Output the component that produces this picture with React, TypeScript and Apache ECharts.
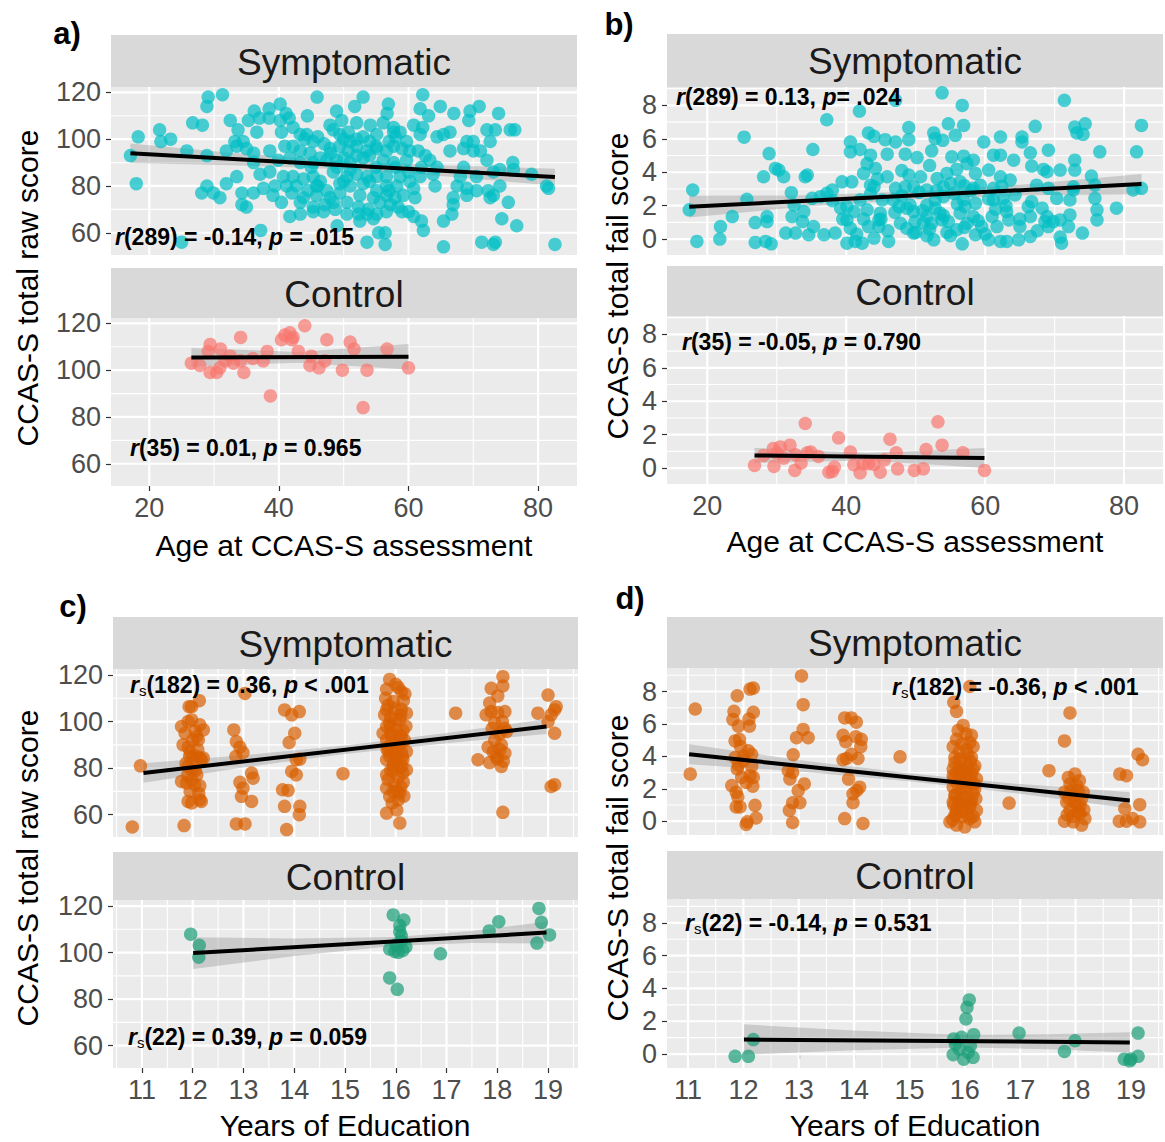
import React, { useEffect, useRef } from "react";
import * as echarts from "echarts";

// ---------- tick values ----------
const AGE_TICKS = [20, 40, 60, 80];
const AGE_MINOR = [10, 30, 50, 70, 90];
const EDU_TICKS = [11, 12, 13, 14, 15, 16, 17, 18, 19];
const EDU_MINOR = [10.5, 11.5, 12.5, 13.5, 14.5, 15.5, 16.5, 17.5, 18.5, 19.5];
const RAW_TICKS = [60, 80, 100, 120];
const RAW_MINOR = [50, 70, 90, 110];
const FAIL_TICKS = [0, 2, 4, 6, 8];
const FAIL_MINOR = [-1, 1, 3, 5, 7, 9];

// ---------- a) age vs raw score ----------
const ageRawSym: number[][] = [
  [29.1,118],[31.3,119],[45.9,118],[53.0,118],[62.2,119],
  [28.9,114],[40.2,115],[36.2,112],[38.5,113],[41.1,111],[44.4,110],[48.9,112],[51.7,114],[56.9,115],[56.7,111],[61.8,113],[64.9,114],[67.0,111],[69.5,112],[70.9,114],[73.9,111],[63.1,110],
  [26.7,107],[28.2,106],[32.5,108],[33.7,104],[35.3,108],[37.0,109],[38.5,109],[40.2,108],[41.6,109],[42.2,105],[47.9,106],[49.7,108],[52.0,107],[54.1,106],[56.1,107],[57.7,105],[60.8,106],[62.2,105],[66.4,103],[69.3,108],[72.1,104],[73.4,104],[76.4,104],
  [21.6,104],[18.3,101],[21.8,99],[23.3,100],[33.2,99],[34.5,99],[36.6,103],[40.4,103],[43.3,102],[44.3,102],[45.3,99],[48.4,104],[49.4,102],[50.7,103],[52.0,100],[55.1,102],[57.7,103],[58.7,103],[59.7,99],[61.8,102],[64.4,101],[65.4,102],[69.0,99],[70.0,99],[72.6,99],[75.7,104],
  [17.1,93],[25.8,95],[28.9,93],[31.9,95],[33.5,97],[35.0,96],[36.1,94],[38.6,95],[40.9,97],[42.2,97],[43.3,95],[44.8,94],[46.4,92],[47.9,96],[49.4,97],[50.7,95],[52.0,97],[53.6,95],[55.1,96],[56.6,95],[57.7,97],[59.0,96],[60.2,95],[61.5,95],[62.6,93],[66.4,95],[68.5,96],[70.0,95],[71.1,95],[72.1,91],[76.1,90],
  [36.1,90],[39.9,91],[41.7,92],[43.3,90],[45.3,90],[47.4,91],[48.9,91],[51.0,90],[53.0,92],[56.1,91],[57.7,90],[59.7,91],[63.3,91],[64.4,88],[68.5,88],[74.1,87],[76.2,87],
  [37.1,85],[38.6,86],[40.7,84],[42.2,84],[43.8,83],[45.3,84],[46.4,82],[48.4,86],[50.5,84],[52.0,85],[53.6,84],[55.1,84],[56.6,84],[58.7,84],[60.2,82],[61.8,84],[63.8,85],[68.0,84],[70.5,84],[73.1,86],[79.0,85],
  [18.0,81],[28.1,77],[28.9,80],[31.9,81],[33.5,84],[37.6,79],[39.4,80],[41.2,80],[42.7,80],[44.5,78],[45.8,80],[47.4,78],[49.4,81],[51.0,80],[53.0,81],[55.1,78],[56.6,80],[58.2,80],[60.8,79],[64.1,80],[67.5,80],[69.0,79],[70.5,78],[72.3,78],[74.1,80],[81.3,80],
  [29.9,77],[30.9,75],[34.3,77],[36.1,77],[39.1,76],[42.0,77],[43.8,75],[45.8,76],[47.9,75],[49.4,77],[52.5,76],[54.6,75],[56.6,76],[57.9,75],[59.2,76],[61.0,75],[66.9,75],[69.0,76],[73.1,76],[81.6,79],
  [34.3,72],[35.0,71],[40.4,73],[43.3,73],[45.3,71],[47.1,72],[48.4,73],[50.5,73],[52.3,71],[53.8,70],[55.6,73],[57.2,72],[58.4,71],[60.0,69],[66.9,72],[75.4,73],[72.6,75],
  [41.7,67],[43.3,68],[45.3,69],[46.9,69],[48.7,70],[50.5,68],[52.3,68],[53.6,68],[55.1,68],[56.6,69],[59.0,69],[60.8,67],[62.0,65],[65.4,65],[66.7,68],[74.4,66],[76.7,63],
  [49.0,63],[52.5,65],[54.6,66],[55.4,60],[56.4,60],[62.3,61],[37.2,61],
  [25.0,56],[53.6,56],[56.4,55],[65.4,54],[71.3,56],[73.1,55],[73.4,56],[82.6,55],
  [44,100],[46,101],[47,98],[50,100],[51,99],[53,101],[54,99],[55,97],[57,99],[58,101],[48,94],[50,92],[52,93],[54,93],[45,88],[49,88],[51,87],[55,88],[58,88],[46,80],[50,82],[54,82],[57,78],[60,86],[62,88],
];
const ageRawCtl: number[][] = [
  [26.5,103],[27.8,102],[29.4,111],[29.1,108],[29.4,99],[30.4,99],[30.9,101],[31.0,109],[31.7,104],[32.5,106],[34.1,114],[34.1,104],[34.6,99],[37.6,104],[38.2,108],[38.7,89],[40.4,113],[40.9,115],[41.7,116],[42.2,114],[42.0,113],[43.0,108],[44.0,119],[44.8,102],[46.2,101],[47.4,113],[47.1,104],[49.8,100],[51.0,112],[51.6,109],[53.0,84],[53.6,100],[56.7,109],[60.0,101],[33.0,103],[36.0,105],[45.0,106],
];
const aSymFitX = [17.1, 82.6];
const aSymFitY = [94.0, 83.8];
const aSymBandX = [17.1, 33, 50, 66, 82.6];
const aSymBandLo = [89.8, 88.9, 87.1, 84.0, 80.2];
const aSymBandHi = [98.2, 94.1, 90.7, 88.8, 87.4];
const aCtlFitX = [26.5, 60.0];
const aCtlFitY = [105.4, 105.7];
const aCtlBandX = [26.5, 43, 60];
const aCtlBandLo = [101.5, 103.2, 100.3];
const aCtlBandHi = [109.5, 107.8, 111.2];

// ---------- b) age vs fail score ----------
const ageFailSym: number[][] = [
  [53.8,8.75],[47.1,8.3],[56.7,8.0],[71.4,8.3],[41.9,7.66],[37.2,7.14],[25.3,6.1],
  [49.0,6.67],[52.6,6.35],[54.7,6.9],[56.9,6.8],[67.2,6.75],[72.9,6.7],[74.4,6.9],[82.5,6.8],[73.2,6.35],[74.1,6.27],[43.2,6.35],[44.0,6.15],[45.6,5.95],[47.1,5.81],[49.0,5.95],[52.8,6.01],[53.9,5.91],[55.7,6.21],[62.2,6.11],[65.3,6.11],[65.3,5.81],[59.8,5.81],
  [40.6,5.81],[35.2,5.36],[28.9,5.12],[40.6,5.22],[42.0,5.36],[43.5,5.02],[45.9,5.08],[48.5,5.08],[50.2,4.88],[52.3,5.28],[55.2,4.92],[56.9,4.96],[58.3,4.72],[61.2,5.02],[62.2,5.02],[64.1,4.72],[66.5,5.16],[69.1,5.32],[76.5,5.22],[81.8,5.22],[72.9,4.72],[68.4,4.17],
  [29.8,4.23],[30.3,4.13],[28.1,3.73],[31.0,3.73],[34.1,3.73],[34.4,3.83],[43.0,4.52],[44.2,4.23],[42.5,3.93],[45.9,3.73],[49.0,3.83],[50.7,3.73],[53.1,3.63],[54.5,3.93],[55.9,4.17],[57.4,4.52],[58.6,3.93],[60.5,4.13],[62.2,3.73],[63.6,3.53],[66.7,4.37],[68.9,4.03],[72.9,4.13],[75.3,3.77],[70.8,4.13],
  [38.0,2.94],[39.4,3.43],[40.8,3.43],[37.2,2.74],[32.1,2.78],[44.0,3.13],[43.5,3.23],[47.1,3.04],[48.5,3.13],[49.7,3.13],[51.6,2.94],[54.0,3.13],[55.0,3.33],[56.4,3.43],[58.3,3.04],[59.3,3.23],[61.2,3.04],[62.4,3.17],[67.4,3.23],[69.1,3.04],[72.7,3.13],[81.3,2.94],[75.8,3.23],[72.7,2.94],
  [25.7,2.38],[17.9,2.94],[17.4,1.75],[35.1,2.44],[36.3,2.54],[40.1,1.94],[42.0,2.34],[45.2,2.34],[46.8,2.34],[49.2,2.04],[51.6,2.04],[52.8,2.34],[54.0,2.54],[55.5,2.74],[56.9,2.34],[58.6,2.14],[61.2,2.34],[62.6,2.44],[64.3,2.64],[66.7,2.24],[70.3,2.44],[72.2,2.34],[75.8,2.44],[78.9,1.85],[82.5,3.04],
  [32.5,2.04],[33.9,1.65],[39.2,1.85],[41.1,1.65],[43.0,1.75],[44.9,1.55],[47.6,1.94],[48.7,1.85],[49.7,1.65],[51.6,1.35],[52.8,1.85],[53.5,1.55],[56.4,1.55],[57.1,1.94],[58.3,1.35],[61.0,1.35],[63.1,1.65],[66.2,1.94],[68.2,1.85],[68.9,1.35],[70.8,1.15],[72.2,1.45],[76.1,1.75],[76.1,1.15],[23.6,1.35],[28.6,1.35],
  [21.9,0.75],[26.9,0.99],[28.6,1.05],[32.2,1.35],[33.7,1.05],[35.3,0.75],[36.8,0.26],[38.4,0.36],[40.1,1.15],[40.6,0.65],[43.2,0.75],[44.7,1.15],[44.7,0.75],[47.8,0.95],[48.7,0.65],[49.9,1.05],[51.1,0.95],[52.3,0.95],[53.8,1.15],[54.7,1.05],[55.9,0.56],[57.4,0.95],[59.5,0.75],[61.7,0.75],[63.4,1.15],[65.0,0.75],[66.5,1.35],[68.6,1.05],[69.1,0.75],[69.8,1.05],[72.0,0.75],[74.0,0.36],
  [18.5,-0.14],[21.8,0],[26.9,-0.2],[28.4,-0.14],[29.2,-0.28],[31.3,0.36],[32.7,0.36],[34.6,0.26],[40.1,-0.24],[41.3,-0.14],[42.3,-0.24],[44.0,0.06],[46.1,-0.14],[49.7,0.36],[51.6,0.2],[52.6,-0.04],[54.5,0.4],[56.7,-0.28],[58.6,0.26],[60.5,-0.04],[62.2,-0.14],[64.8,-0.04],[63.1,-0.14],[70.8,0.12],[71.0,-0.24],[66.5,0.16],
  [45,1.2],[46,0.5],[47,1.6],[48,2.6],[50,0.4],[50.5,2.8],[51,1.7],[52,0.6],[53,2.9],[54,1.4],[55,0.2],[56,2.1],[57,0.7],[58,2.9],[59,1.1],[60,0.3],[60.5,2.4],[61.5,1.8],[42.5,1.2],[43.5,2.7],[41.5,0.3],[39.5,1.2],[38,2.3],[44.5,3.6],[48,4.1],[52,4.4],[57,3.2],[63,2.0],[65,1.2],[67.5,0.5],
];
const ageFailCtl: number[][] = [
  [26.8,0.16],[28.1,0.76],[29.5,1.17],[29.6,0.1],[30.5,1.27],[31.0,0.6],[31.9,1.37],[32.6,-0.14],[32.7,0.8],[34.1,2.67],[34.4,0.92],[34.9,0.96],[37.5,-0.24],[38.0,-0.2],[38.3,0.06],[38.9,1.81],[40.6,0.96],[41.1,0.2],[42.0,-0.28],[42.4,0.26],[43.2,0.26],[44.0,0.22],[44.9,-0.24],[46.3,1.73],[47.2,0.92],[47.4,-0.04],[49.8,-0.14],[51.1,-0.04],[51.5,1.11],[53.2,2.77],[53.8,1.37],[56.8,0.92],[59.9,-0.14],[30.0,0.9],[33.5,0.3],[45.5,0.5],[36.0,0.7],
];
const bSymFitX = [17.4, 82.5];
const bSymFitY = [1.94, 3.29];
const bSymBandX = [17.4, 33, 50, 66, 82.5];
const bSymBandLo = [1.29, 1.91, 2.37, 2.62, 2.69];
const bSymBandHi = [2.59, 2.61, 2.87, 3.28, 3.89];
const bCtlFitX = [26.8, 59.9];
const bCtlFitY = [0.76, 0.6];
const bCtlBandX = [26.8, 43, 59.9];
const bCtlBandLo = [0.31, 0.46, 0.0];
const bCtlBandHi = [1.21, 0.9, 1.2];

// ---------- c) education vs raw score ----------
const eduRawSym: number[][] = [
  [10.81,54.7],[10.97,81],
  [11.93,106.4],[11.98,106.4],[12.13,109],[11.78,97.9],[11.91,100],[11.98,100.7],[12.14,98.6],[12.21,96.4],[12.08,93.6],[12.11,92.1],[11.81,90],[11.91,89],[11.94,85],[12.01,84.3],[12.08,85],[12.14,84.3],[12.17,83.6],[12.21,84.3],[11.91,80.7],[11.98,79.3],[12.08,77.1],[11.78,74.3],[11.88,73.6],[11.98,75],[12.04,72.9],[12.14,72.4],[11.91,65.7],[11.98,65],[12.14,66.4],[12.17,65.7],[11.83,55.3],
  [11.85,95],[12.05,96],[11.95,87],[12.1,88],[11.9,77],[12.05,79],[11.95,70],[12.12,69],[11.87,82],[12.0,92],
  [13.03,112.1],[12.81,96.4],[12.86,91.4],[12.93,89],[12.99,86.7],[12.85,85],[13.16,77.9],[13.19,75.7],[12.93,73.9],[12.99,71.4],[12.96,67.9],[13.16,65.7],[12.86,56],[13.03,56],
  [13.81,105],[13.95,102.9],[14.1,104.3],[14.01,95],[13.9,91],[14.04,83.6],[14.11,83.9],[13.95,78.6],[14.04,77.1],[13.77,70.7],[13.88,70.4],[13.81,63.6],[14.11,63.6],[14.1,60],[13.85,53.6],
  [14.96,77.6],
  [15.88,118.1],[15.82,113.9],[16.05,114.7],[16.11,112.9],[16.18,111.9],[15.95,108.6],[15.82,105],[15.98,105.7],[16.11,105.3],[16.21,103.6],[15.78,102.9],[15.88,99.3],[16.08,100.7],[15.75,95],[15.91,94.3],[16.14,96.1],[15.82,92.1],[16.08,90.7],[15.95,88.6],[16.11,87.1],[16.21,87.1],[15.88,85],[16.01,84.3],[15.82,83.6],[16.14,83.6],[15.95,81],[16.08,80],[15.82,77.1],[15.95,78.6],[16.21,79.3],[16.14,77.9],[15.82,71.4],[15.95,70],[16.08,69.3],[15.88,67.9],[16.05,66.4],[15.82,60.7],[16.08,56.4],[15.98,86.4],[15.85,89],[16.11,93.6],[15.82,97.9],[16.01,96.4],
  [15.9,98],[16.0,101],[16.1,103],[15.85,107],[16.15,109],[15.92,91],[16.05,89],[16.17,92],[15.87,87],[16.0,83],[16.12,81],[15.9,79],[16.05,76],[16.15,74],[15.85,75],[15.98,73],[16.1,72],[15.93,65],[16.02,62],[16.16,68],[15.8,110],[16.0,116],[16.2,98],[15.9,95],[16.07,94],[15.96,82],[16.13,85],[15.83,88],[16.03,70],[15.9,102],
  [17.18,103.6],
  [18.11,119.3],[18.11,115.3],[17.88,114.3],[18.01,111],[17.78,102.9],[17.88,104.3],[18.01,103.9],[18.15,104.3],[17.95,99.3],[18.05,94.7],[18.18,95.7],[17.82,89],[18.08,90],[17.62,83.6],[17.85,82.4],[17.98,85],[18.15,86.4],[18.08,80.7],[18.11,61],
  [17.9,97],[18.05,88],[17.95,92],[18.1,100],[17.85,108],[18.0,84],[18.12,83],[17.92,87],[18.15,97],
  [19.0,111.4],[19.16,106.4],[19.13,105],[18.8,103.6],[19.06,102.9],[19.0,100],[19.13,95],[19.06,72.1],[19.13,72.9],
];
const eduRawCtl: number[][] = [
  [11.96,107.9],[12.13,103.1],[12.12,98],[15.95,116.2],[16.16,114],[16.08,111.6],[16.08,109],[16.11,107.2],[15.88,101.5],[15.98,100.5],[16.05,100.1],[16.14,100.9],[16.01,103.4],[15.88,89.1],[16.03,84.2],[16.88,99.5],[17.84,109.3],[18.03,113.3],[18.82,119],[18.87,113],[18.78,104.1],[19.03,107.6],[16.11,104.8],[16.2,102.5],
];
const cSymFitX = [11.03, 18.97];
const cSymFitY = [77.9, 97.9];
const cSymBandX = [11.03, 13, 15, 17, 18.97];
const cSymBandLo = [73.7, 80.3, 86.1, 90.7, 94.7];
const cSymBandHi = [82.1, 85.5, 89.7, 95.1, 101.1];
const cCtlFitX = [12.01, 18.97];
const cCtlFitY = [99.8, 108.6];
const cCtlBandX = [12.01, 14, 16, 17.5, 18.97];
const cCtlBandLo = [93.0, 98.5, 102.9, 104.1, 103.9];
const cCtlBandHi = [106.6, 106.1, 106.7, 109.3, 113.3];

// ---------- d) education vs fail score ----------
const eduFailSym: number[][] = [
  [11.13,6.92],[11.04,2.91],
  [11.89,7.74],[12.12,8.15],[12.18,8.21],[11.83,6.78],[11.81,6.27],[11.91,5.87],[12.11,5.87],[12.18,6.72],[11.85,4.95],[11.93,5.05],[12.09,4.34],[12.15,4.13],[12.0,4.03],[11.85,3.93],[11.89,3.22],[11.97,2.71],[12.12,2.81],[12.18,2.71],[11.79,2.2],[11.87,1.79],[12.17,2.16],[11.87,0.88],[11.94,0.88],[12.21,0.98],[12.23,0.2],[12.05,-0.2],[12.07,-0.04],[11.91,3.46],[12.0,3.73],
  [11.9,1.5],[12.05,2.4],[12.15,3.4],[11.95,4.6],[12.1,6.3],
  [13.05,8.96],[13.08,7.19],[12.96,5.15],[13.08,5.66],[13.17,5.15],[12.81,3.12],[12.89,3.01],[12.84,2.61],[12.99,1.89],[12.89,1.14],[13.02,1.14],[12.83,0.67],[12.89,-0.08],[12.9,4.1],[13.1,2.3],
  [13.83,6.37],[13.95,6.37],[14.04,6.11],[13.8,5.3],[14.03,5.21],[14.13,5.05],[13.86,3.87],[13.95,4.13],[14.07,3.87],[13.8,3.79],[14.1,2.1],[13.98,1.69],[13.98,1.14],[13.83,0.16],[14.16,-0.14],[14.05,1.9],[13.9,2.6],[14.12,4.6],[13.85,4.9],
  [14.83,3.97],
  [16.09,8.31],[15.8,7.33],[15.85,6.78],[15.97,5.91],[16.12,5.3],[15.85,5.05],[16.09,4.85],[15.79,4.6],[16.03,4.44],[15.82,3.93],[16.12,3.93],[15.79,3.22],[15.91,3.32],[16.18,3.42],[16.12,2.91],[15.79,2.81],[15.94,2.51],[16.21,2.61],[15.79,2.1],[16.03,2.0],[16.18,2.0],[15.82,1.59],[15.94,1.38],[16.12,1.28],[15.79,1.18],[15.91,0.98],[16.09,0.88],[16.21,0.67],[15.82,0.37],[15.94,0.26],[16.09,0.16],[15.85,-0.24],[16.0,-0.35],[15.73,-0.04],[16.18,-0.04],[15.91,3.83],[16.03,3.01],[15.85,0.77],
  [15.85,0.5],[15.95,0.6],[16.05,0.4],[16.15,0.3],[15.8,1.0],[15.9,1.2],[16.0,1.0],[16.1,1.1],[16.2,1.4],[15.83,1.6],[15.93,1.8],[16.02,1.5],[16.15,1.7],[15.87,2.3],[15.97,2.2],[16.07,2.4],[16.17,2.3],[15.8,2.6],[15.9,2.8],[16.0,2.7],[16.1,2.6],[15.85,3.0],[15.95,3.1],[16.05,3.3],[16.15,3.2],[15.82,3.6],[16.0,3.6],[16.1,3.7],[15.9,4.3],[16.05,4.1],[15.95,4.8],[16.15,4.6],[15.88,5.6],[16.02,5.4],[15.78,0.1],
  [16.8,1.12],
  [17.9,6.68],[17.8,4.95],[17.52,3.12],[17.99,2.91],[17.9,2.3],[18.05,1.89],[17.8,1.79],[17.96,1.59],[18.11,1.38],[17.84,1.18],[18.02,0.98],[17.9,0.67],[18.08,0.47],[17.8,0.0],[17.96,-0.04],[18.11,-0.24],[18.17,0.16],
  [17.85,0.4],[17.95,0.3],[18.05,0.6],[18.15,0.7],[17.88,1.4],[17.98,1.2],[18.08,1.0],[18.14,1.8],[17.92,1.9],[18.02,2.2],[17.87,2.7],[18.07,2.5],
  [19.13,4.13],[19.21,3.79],[18.8,2.91],[18.92,2.81],[19.16,1.02],[18.89,0.77],[18.79,0.0],[18.92,0.0],[19.03,0.16],[19.16,-0.04],
];
const eduFailCtl: number[][] = [
  [11.85,-0.14],[12.09,-0.14],[12.18,0.88],[15.79,-0.04],[15.8,0.92],[15.94,1.02],[15.83,0.61],[15.98,-0.31],[16.06,0.1],[16.15,-0.2],[16.16,1.18],[16.02,2.14],[16.04,2.85],[16.08,3.3],[16.98,1.28],[17.8,0.16],[17.99,0.81],[18.88,-0.31],[18.98,-0.41],[19.13,1.28],[19.13,-0.14],[15.9,0.3],[16.1,0.5],[19.0,-0.3],
];
const dSymFitX = [11.02, 18.98];
const dSymFitY = [4.13, 1.28];
const dSymBandX = [11.02, 13, 15, 17, 18.98];
const dSymBandLo = [3.51, 3.07, 2.46, 1.69, 0.78];
const dSymBandHi = [4.75, 3.77, 2.96, 2.29, 1.78];
const dCtlFitX = [12.01, 18.98];
const dCtlFitY = [0.88, 0.71];
const dCtlBandX = [12.01, 14, 16, 17.5, 18.98];
const dCtlBandLo = [-0.05, 0.23, 0.4, 0.3, 0.09];
const dCtlBandHi = [1.81, 1.43, 1.16, 1.2, 1.33];

// ---------- colours / styles ----------
const TEAL = "#00BFC4";
const SALMON = "#F8766D";
const ORANGE = "#D95F02";
const GREEN = "#1B9E77";
const PANEL_BG = "#EBEBEB";
const STRIP_BG = "#D9D9D9";
const AXIS_FONT = "Liberation Sans";

interface Facet {
  box: { left: number; top: number; width: number; height: number };
  xr: number[]; yr: number[];
  xt: number[]; xm: number[]; yt: number[]; ym: number[];
  showX: boolean;
  pts: number[][]; color: string;
  fx: number[]; fy: number[];
  bx: number[]; blo: number[]; bhi: number[];
}

const FACETS: Facet[] = [
  { box: { left: 111, top: 87, width: 466, height: 168 }, xr: [14.1, 86.0], yr: [50.5, 122.3], xt: AGE_TICKS, xm: AGE_MINOR, yt: RAW_TICKS, ym: RAW_MINOR, showX: false, pts: ageRawSym, color: TEAL, fx: aSymFitX, fy: aSymFitY, bx: aSymBandX, blo: aSymBandLo, bhi: aSymBandHi },
  { box: { left: 111, top: 318, width: 466, height: 168 }, xr: [14.1, 86.0], yr: [50.5, 122.3], xt: AGE_TICKS, xm: AGE_MINOR, yt: RAW_TICKS, ym: RAW_MINOR, showX: true, pts: ageRawCtl, color: SALMON, fx: aCtlFitX, fy: aCtlFitY, bx: aCtlBandX, blo: aCtlBandLo, bhi: aCtlBandHi },
  { box: { left: 667, top: 87, width: 496, height: 168 }, xr: [14.2, 85.6], yr: [-0.95, 9.1], xt: AGE_TICKS, xm: AGE_MINOR, yt: FAIL_TICKS, ym: FAIL_MINOR, showX: false, pts: ageFailSym, color: TEAL, fx: bSymFitX, fy: bSymFitY, bx: bSymBandX, blo: bSymBandLo, bhi: bSymBandHi },
  { box: { left: 667, top: 316, width: 496, height: 168 }, xr: [14.2, 85.6], yr: [-0.95, 9.1], xt: AGE_TICKS, xm: AGE_MINOR, yt: FAIL_TICKS, ym: FAIL_MINOR, showX: true, pts: ageFailCtl, color: SALMON, fx: bCtlFitX, fy: bCtlFitY, bx: bCtlBandX, blo: bCtlBandLo, bhi: bCtlBandHi },
  { box: { left: 113, top: 669, width: 465, height: 168 }, xr: [10.43, 19.59], yr: [50.4, 122.6], xt: EDU_TICKS, xm: EDU_MINOR, yt: RAW_TICKS, ym: RAW_MINOR, showX: false, pts: eduRawSym, color: ORANGE, fx: cSymFitX, fy: cSymFitY, bx: cSymBandX, blo: cSymBandLo, bhi: cSymBandHi },
  { box: { left: 113, top: 900, width: 465, height: 168 }, xr: [10.43, 19.59], yr: [50.4, 122.6], xt: EDU_TICKS, xm: EDU_MINOR, yt: RAW_TICKS, ym: RAW_MINOR, showX: true, pts: eduRawCtl, color: GREEN, fx: cCtlFitX, fy: cCtlFitY, bx: cCtlBandX, blo: cCtlBandLo, bhi: cCtlBandHi },
  { box: { left: 667, top: 668, width: 496, height: 167 }, xr: [10.62, 19.58], yr: [-0.85, 9.45], xt: EDU_TICKS, xm: EDU_MINOR, yt: FAIL_TICKS, ym: FAIL_MINOR, showX: false, pts: eduFailSym, color: ORANGE, fx: dSymFitX, fy: dSymFitY, bx: dSymBandX, blo: dSymBandLo, bhi: dSymBandHi },
  { box: { left: 667, top: 899, width: 496, height: 169 }, xr: [10.62, 19.58], yr: [-0.85, 9.45], xt: EDU_TICKS, xm: EDU_MINOR, yt: FAIL_TICKS, ym: FAIL_MINOR, showX: true, pts: eduFailCtl, color: GREEN, fx: dCtlFitX, fy: dCtlFitY, bx: dCtlBandX, blo: dCtlBandLo, bhi: dCtlBandHi },
];

// strips: [left, top, width, height, label]
const STRIPS: [number, number, number, number, string][] = [
  [111, 35, 466, 52, "Symptomatic"],
  [111, 268, 466, 50, "Control"],
  [667, 34, 496, 53, "Symptomatic"],
  [667, 266, 496, 50, "Control"],
  [113, 617, 465, 52, "Symptomatic"],
  [113, 852, 465, 48, "Control"],
  [667, 617, 496, 51, "Symptomatic"],
  [667, 851, 496, 48, "Control"],
];

const PANEL_LABELS: [number, number, string][] = [
  [67, 33, "a)"], [619, 24, "b)"], [73, 606, "c)"], [630, 598, "d)"],
];

const X_TITLES: [number, number, string][] = [
  [344, 545, "Age at CCAS-S assessment"],
  [915, 541, "Age at CCAS-S assessment"],
  [345, 1125, "Years of Education"],
  [915, 1125, "Years of Education"],
];
const Y_TITLES: [number, number, string][] = [
  [27, 288, "CCAS-S total raw score"],
  [617, 286, "CCAS-S total fail score"],
  [27, 868, "CCAS-S total raw score"],
  [617, 868, "CCAS-S total fail score"],
];

const ANNOTATIONS: [number, number, string][] = [
  [115, 237, "{i|r}{b|(289) = -0.14, }{i|p}{b| = .015}"],
  [130, 448, "{i|r}{b|(35) = 0.01, }{i|p}{b| = 0.965}"],
  [676, 97, "{i|r}{b|(289) = 0.13, }{i|p}{b|= .024}"],
  [682, 342, "{i|r}{b|(35) = -0.05, }{i|p}{b| = 0.790}"],
  [130, 685, "{i|r}{s|s}{b|(182) = 0.36, }{i|p}{b| < .001}"],
  [128, 1037, "{i|r}{s|s}{b|(22) = 0.39, }{i|p}{b| = 0.059}"],
  [892, 687, "{i|r}{s|s}{b|(182) = -0.36, }{i|p}{b| < .001}"],
  [685, 923, "{i|r}{s|s}{b|(22) = -0.14, }{i|p}{b| = 0.531}"],
];

const ANN_RICH = {
  b: { fontFamily: "Liberation Sans", fontWeight: "bold", fontSize: 23, fill: "#000", lineHeight: 26 },
  i: { fontFamily: "Liberation Sans", fontWeight: "bold", fontStyle: "italic", fontSize: 23, fill: "#000", lineHeight: 26 },
  s: { fontFamily: "Liberation Sans", fontWeight: "normal", fontSize: 15, fill: "#000", lineHeight: 26, verticalAlign: "bottom" },
};

function gridLineSeries(i: number, data: number[][], vertical: boolean, width: number) {
  return {
    type: "custom",
    xAxisIndex: i,
    yAxisIndex: i,
    silent: true,
    z: 1,
    data,
    renderItem: (params: any, api: any) => {
      const p = api.coord([api.value(0), api.value(1)]);
      const cs = params.coordSys;
      const shape = vertical
        ? { x1: p[0], y1: cs.y, x2: p[0], y2: cs.y + cs.height }
        : { x1: cs.x, y1: p[1], x2: cs.x + cs.width, y2: p[1] };
      return { type: "line", shape, style: { stroke: "#FFFFFF", lineWidth: width } };
    },
  };
}

function buildOption() {
  const grid: any[] = [];
  const xAxis: any[] = [];
  const yAxis: any[] = [];
  const series: any[] = [];
  const tickStyle = { color: "#333333", width: 1.2 };
  const labelStyle = { color: "#4D4D4D", fontSize: 27, fontFamily: AXIS_FONT };

  FACETS.forEach((f, i) => {
    grid.push({ ...f.box, show: true, backgroundColor: PANEL_BG, borderWidth: 0, containLabel: false, outerBoundsMode: "none" });
    xAxis.push({
      gridIndex: i, type: "value", min: f.xr[0], max: f.xr[1],
      axisLine: { show: false }, splitLine: { show: false },
      axisTick: { show: f.showX, customValues: f.xt, length: 5, lineStyle: tickStyle },
      axisLabel: { show: f.showX, customValues: f.xt, margin: 8, ...labelStyle },
    });
    yAxis.push({
      gridIndex: i, type: "value", min: f.yr[0], max: f.yr[1],
      axisLine: { show: false }, splitLine: { show: false },
      axisTick: { show: true, customValues: f.yt, length: 5, lineStyle: tickStyle },
      axisLabel: { show: true, customValues: f.yt, margin: 10, ...labelStyle },
    });
    const inX = (v: number) => v > f.xr[0] && v < f.xr[1];
    const inY = (v: number) => v > f.yr[0] && v < f.yr[1];
    series.push(gridLineSeries(i, f.xm.filter(inX).map((v) => [v, f.yr[0]]), true, 1.1));
    series.push(gridLineSeries(i, f.ym.filter(inY).map((v) => [f.xr[0], v]), false, 1.1));
    series.push(gridLineSeries(i, f.xt.filter(inX).map((v) => [v, f.yr[0]]), true, 2.2));
    series.push(gridLineSeries(i, f.yt.filter(inY).map((v) => [f.xr[0], v]), false, 2.2));
    // confidence band
    series.push({
      type: "custom", xAxisIndex: i, yAxisIndex: i, silent: true, z: 2,
      data: [[f.bx[0], f.blo[0]]],
      renderItem: (_params: any, api: any) => {
        const upper = f.bx.map((x, k) => api.coord([x, f.bhi[k]]));
        const lower = f.bx.map((x, k) => api.coord([x, f.blo[k]])).reverse();
        return { type: "polygon", shape: { points: upper.concat(lower) }, style: { fill: "rgba(153,153,153,0.4)" } };
      },
    });
    series.push({
      type: "scatter", xAxisIndex: i, yAxisIndex: i, z: 3, silent: true,
      symbolSize: 13.5, data: f.pts,
      itemStyle: { color: f.color, opacity: 0.7 },
    });
    series.push({
      type: "line", xAxisIndex: i, yAxisIndex: i, z: 4, silent: true,
      data: f.fx.map((x, k) => [x, f.fy[k]]),
      showSymbol: false, symbol: "none",
      lineStyle: { color: "#000000", width: 4 },
    });
  });

  const elements: any[] = [];
  STRIPS.forEach(([l, t, w, h, label]) => {
    elements.push({ type: "rect", shape: { x: l, y: t, width: w, height: h }, style: { fill: STRIP_BG }, z: 0, silent: true });
    elements.push({
      type: "text", x: l + w / 2, y: t + h / 2 + 1, z: 1, silent: true,
      style: { text: label, fontFamily: AXIS_FONT, fontSize: 37, fill: "#1A1A1A", align: "center", verticalAlign: "middle", textAlign: "center", textVerticalAlign: "middle" },
    });
  });
  PANEL_LABELS.forEach(([x, y, label]) => {
    elements.push({
      type: "text", x, y, z: 5, silent: true,
      style: { text: label, fontFamily: "Liberation Sans", fontWeight: "bold", fontSize: 31, fill: "#000", align: "center", verticalAlign: "middle", textAlign: "center", textVerticalAlign: "middle" },
    });
  });
  X_TITLES.forEach(([x, y, label]) => {
    elements.push({
      type: "text", x, y, z: 5, silent: true,
      style: { text: label, fontFamily: AXIS_FONT, fontSize: 30, fill: "#000", align: "center", verticalAlign: "middle", textAlign: "center", textVerticalAlign: "middle" },
    });
  });
  Y_TITLES.forEach(([x, y, label]) => {
    elements.push({
      type: "text", x, y, rotation: Math.PI / 2, z: 5, silent: true,
      style: { text: label, fontFamily: AXIS_FONT, fontSize: 30, fill: "#000", align: "center", verticalAlign: "middle", textAlign: "center", textVerticalAlign: "middle" },
    });
  });
  ANNOTATIONS.forEach(([x, y, label]) => {
    elements.push({
      type: "text", x, y, z: 100, silent: true,
      style: { text: label, rich: ANN_RICH, align: "left", verticalAlign: "middle", textAlign: "left", textVerticalAlign: "middle" },
    });
  });

  return {
    animation: false,
    backgroundColor: "#FFFFFF",
    grid, xAxis, yAxis, series,
    graphic: { elements },
  };
}

export default function App() {
  const ref = useRef<HTMLDivElement>(null);
  useEffect(() => {
    if (!ref.current) return;
    const chart = echarts.init(ref.current, null, { renderer: "svg" });
    chart.setOption(buildOption() as any);
    return () => chart.dispose();
  }, []);
  return (
    <div
      ref={ref}
      style={{ position: "absolute", left: 0, top: 0, width: 1165, height: 1142, background: "#fff" }}
    />
  );
}
